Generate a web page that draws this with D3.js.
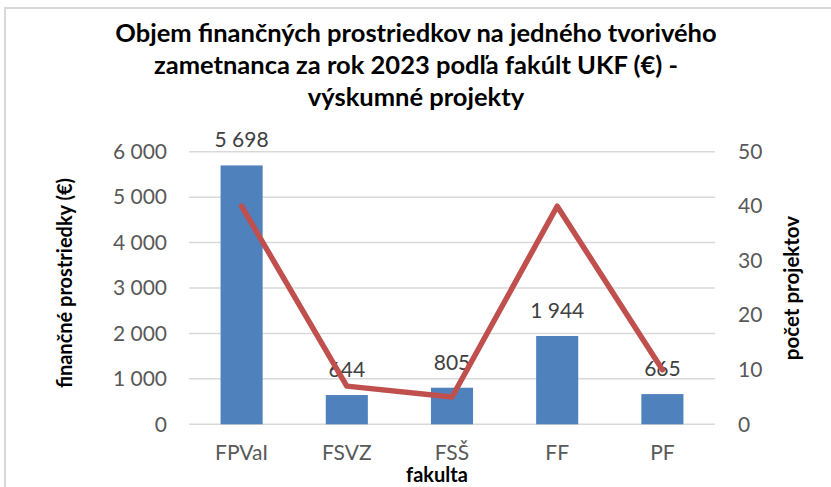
<!DOCTYPE html>
<html><head><meta charset="utf-8">
<script src="https://cdn.jsdelivr.net/npm/d3@7/dist/d3.min.js"></script>
<style>body{margin:0;background:#fff}svg{display:block}</style>
</head><body>
<svg id="c" width="831" height="487"></svg>
<script>
const categories = ["FPVaI", "FSVZ", "FSŠ", "FF", "PF"];
const funds = [5698, 644, 805, 1944, 665];
const projects = [40, 7, 5, 40, 10];
const leftTicks = [0, 1000, 2000, 3000, 4000, 5000, 6000];
const rightTicks = [0, 10, 20, 30, 40, 50];
const titleLines = ["Objem finančných prostriedkov na jedného tvorivého", "zametnanca za rok 2023 podľa fakúlt UKF (€) -", "výskumné projekty"];

const svg = d3.select("#c");
const F = "Lato, 'Open Sans', sans-serif";
const L = 189, R = 715, T = 151.7, B = 424.3;

svg.append("rect").attr("x",5).attr("y",8).attr("width",840).attr("height",500)
  .attr("fill","none").attr("stroke","#d9d9d9").attr("stroke-width",2);

const x = d3.scaleBand().domain(categories).range([L,R]).paddingInner(0.6).paddingOuter(0.3);
const y = d3.scaleLinear().domain([0,6000]).range([B,T]);
const y2 = d3.scaleLinear().domain([0,50]).range([B,T]);

const fmt = v => d3.format(",")(v).replace(/,/g," ");

// gridlines
svg.append("g").selectAll("line").data(leftTicks).join("line")
  .attr("x1",L).attr("x2",R).attr("y1",d=>y(d)).attr("y2",d=>y(d))
  .attr("stroke","#d9d9d9").attr("stroke-width",1.5);

// left axis
const ga = svg.append("g").attr("transform",`translate(${L},0)`)
  .call(d3.axisLeft(y).tickValues(leftTicks).tickFormat(fmt).tickSize(0).tickPadding(22));
ga.select(".domain").remove();
ga.selectAll("text").attr("font-family",F).attr("font-size",21).attr("fill","#595959");

// right axis
const gb = svg.append("g").attr("transform",`translate(${R},0)`)
  .call(d3.axisRight(y2).tickValues(rightTicks).tickSize(0).tickPadding(23));
gb.select(".domain").remove();
gb.selectAll("text").attr("font-family",F).attr("font-size",21).attr("fill","#595959");

// bottom axis
const gx = svg.append("g").attr("transform",`translate(0,${B})`)
  .call(d3.axisBottom(x).tickSize(0).tickPadding(21));
gx.select(".domain").remove();
gx.selectAll("text").attr("font-family",F).attr("font-size",21).attr("fill","#595959");

// bars
svg.append("g").selectAll("rect").data(funds).join("rect")
  .attr("x",(d,i)=>x(categories[i])).attr("width",x.bandwidth())
  .attr("y",d=>y(d)).attr("height",d=>B-y(d)).attr("fill","#4F81BD");

// data labels
svg.append("g").selectAll("text").data(funds).join("text")
  .attr("x",(d,i)=>x(categories[i])+x.bandwidth()/2).attr("y",d=>y(d)-18)
  .attr("text-anchor","middle").attr("font-family",F).attr("font-size",21).attr("fill","#404040")
  .text(fmt);

// line
const line = d3.line().x((d,i)=>x(categories[i])+x.bandwidth()/2).y(d=>y2(d));
svg.append("path").datum(projects).attr("d",line).attr("fill","none")
  .attr("stroke","#C0504D").attr("stroke-width",5.5).attr("stroke-linecap","round").attr("stroke-linejoin","round");

// title
svg.append("g").selectAll("text").data(titleLines).join("text")
  .attr("x",416).attr("y",(d,i)=>42+i*32).attr("text-anchor","middle")
  .attr("font-family",F).attr("font-weight","bold").attr("font-size",25.5).attr("fill","#000")
  .text(d=>d);

// axis titles
svg.append("text").attr("x",437).attr("y",482).attr("text-anchor","middle")
  .attr("font-family",F).attr("font-weight","bold").attr("font-size",20).text("fakulta");
svg.append("text").attr("transform","translate(72,283) rotate(-90)").attr("text-anchor","middle")
  .attr("font-family",F).attr("font-weight","bold").attr("font-size",20).text("finančné prostriedky (€)");
svg.append("text").attr("transform","translate(799,288) rotate(-90)").attr("text-anchor","middle")
  .attr("font-family",F).attr("font-weight","bold").attr("font-size",20.5).text("počet projektov");
</script>
</body></html>
